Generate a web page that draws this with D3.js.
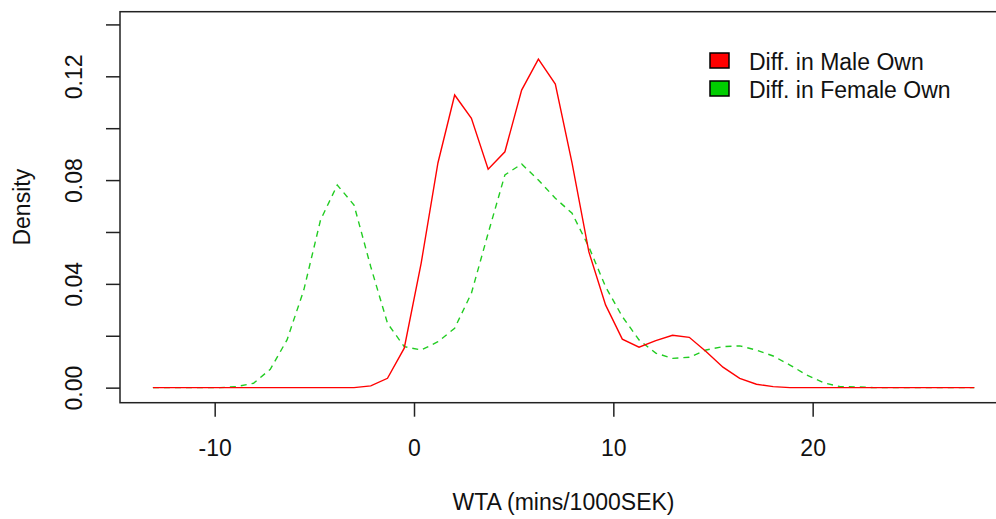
<!DOCTYPE html>
<html>
<head>
<meta charset="utf-8">
<script src="https://cdn.jsdelivr.net/npm/d3@7"></script>
<style>
  body { margin: 0; background: #fff; }
  svg { display: block; font-family: "Liberation Sans", Arial, sans-serif; }
</style>
</head>
<body>
<svg id="chart"></svg>
<script>
// density grid (n = 50) and estimates
const xGrid = [-13.10, -12.26, -11.42, -10.58, -9.74, -8.90, -8.05, -7.21, -6.37, -5.53,
               -4.69, -3.85, -3.01, -2.17, -1.33, -0.49, 0.36, 1.20, 2.04, 2.88,
               3.72, 4.56, 5.40, 6.24, 7.09, 7.93, 8.77, 9.61, 10.45, 11.29,
               12.13, 12.97, 13.81, 14.65, 15.50, 16.34, 17.18, 18.02, 18.86, 19.70,
               20.54, 21.38, 22.22, 23.06, 23.91, 24.75, 25.59, 26.43, 27.27, 28.11];
const maleOwn = [0, 0, 0, 0, 0, 0, 0, 0, 0, 0,
                 0, 0, 0, 0.0007, 0.0036, 0.0152, 0.048, 0.0866, 0.1128, 0.1038,
                 0.0842, 0.0909, 0.1147, 0.1266, 0.1170, 0.0865, 0.0524, 0.0319, 0.0187, 0.0156,
                 0.0181, 0.0202, 0.0194, 0.0139, 0.0079, 0.0036, 0.0013, 0.0004, 0, 0,
                 0, 0, 0, 0, 0, 0, 0, 0, 0, 0];
const femaleOwn = [0, 0, 0, 0, 0, 0.0004, 0.0017, 0.0071, 0.0184, 0.0376,
                   0.0646, 0.0781, 0.0704, 0.0466, 0.0248, 0.0158, 0.0145, 0.0177, 0.0229, 0.0364,
                   0.0595, 0.0820, 0.0862, 0.0800, 0.0730, 0.0672, 0.0543, 0.0389, 0.0274, 0.0184,
                   0.0133, 0.0113, 0.0117, 0.0145, 0.0158, 0.0161, 0.0145, 0.0122, 0.0087, 0.0049,
                   0.0019, 0.0004, 0.0003, 0, 0, 0, 0, 0, 0, 0];
const xTicks = [-10, 0, 10, 20];
const yTicks = [0, 0.02, 0.04, 0.06, 0.08, 0.10, 0.12, 0.14];
const yLabelled = [0, 0.04, 0.08, 0.12];
const seriesNames = ["Diff. in Male Own", "Diff. in Female Own"];
const seriesFill = ["#ff0000", "#00cd00"];

const width = 996, height = 519;
const plotL = 120, plotT = 11.7, plotR = 1007, plotB = 402.7;

const svg = d3.select("#chart").attr("width", width).attr("height", height);
svg.append("rect").attr("width", width).attr("height", height).attr("fill", "#fff");

const x = d3.scaleLinear().domain([-14.75, 29.75]).range([plotL, plotR]);
const y = d3.scaleLinear().domain([-0.0058, 0.1449]).range([plotB, plotT]);

const line = d3.line()
    .x(d => x(d[0]))
    .y(d => y(d[1]));

svg.append("path")
    .datum(xGrid.map((v, i) => [v, femaleOwn[i]]))
    .attr("fill", "none")
    .attr("stroke", "#22cc22")
    .attr("stroke-width", 1.4)
    .attr("stroke-dasharray", "6,5")
    .attr("d", line);

svg.append("path")
    .datum(xGrid.map((v, i) => [v, maleOwn[i]]))
    .attr("fill", "none")
    .attr("stroke", "#ff0000")
    .attr("stroke-width", 1.4)
    .attr("d", line);

// box
svg.append("rect")
    .attr("x", plotL).attr("y", plotT)
    .attr("width", plotR - plotL).attr("height", plotB - plotT)
    .attr("fill", "none").attr("stroke", "#222").attr("stroke-width", 1.5);

// axes
const xAxis = svg.append("g")
    .attr("transform", `translate(0,${plotB})`)
    .call(d3.axisBottom(x).tickValues(xTicks).tickSize(14).tickSizeOuter(0).tickFormat(d => String(d)));
xAxis.select(".domain").remove();
xAxis.selectAll("line").attr("stroke", "#222").attr("stroke-width", 1.5);
xAxis.selectAll("text")
    .attr("y", 53).attr("dy", 0)
    .attr("font-size", 23).attr("fill", "#111")
    .attr("font-family", "Liberation Sans, Arial, sans-serif");

const yAxis = svg.append("g")
    .attr("transform", `translate(${plotL},0)`)
    .call(d3.axisLeft(y).tickValues(yTicks).tickSize(14).tickSizeOuter(0)
        .tickFormat(d => yLabelled.some(v => Math.abs(v - d) < 1e-9) ? d3.format(".2f")(d) : ""));
yAxis.select(".domain").remove();
yAxis.selectAll("line").attr("stroke", "#222").attr("stroke-width", 1.5);
yAxis.selectAll("text")
    .attr("transform", "rotate(-90)")
    .attr("x", 0).attr("y", -38).attr("dy", 0)
    .attr("text-anchor", "middle")
    .attr("font-size", 23).attr("fill", "#111")
    .attr("font-family", "Liberation Sans, Arial, sans-serif");

// axis titles
svg.append("text")
    .attr("x", (plotL + plotR) / 2).attr("y", 510)
    .attr("text-anchor", "middle")
    .attr("font-size", 23).attr("fill", "#111")
    .text("WTA (mins/1000SEK)");

svg.append("text")
    .attr("transform", `translate(30,${(plotT + plotB) / 2}) rotate(-90)`)
    .attr("text-anchor", "middle")
    .attr("font-size", 23).attr("fill", "#111")
    .text("Density");

// legend
const legend = svg.append("g").attr("transform", "translate(710,53)");
seriesNames.forEach((name, i) => {
    legend.append("rect")
        .attr("x", 0).attr("y", i * 28)
        .attr("width", 19).attr("height", 15)
        .attr("fill", seriesFill[i]).attr("stroke", "#000").attr("stroke-width", 1.5);
    legend.append("text")
        .attr("x", 39).attr("y", i * 28 + 17)
        .attr("font-size", 23).attr("fill", "#111")
        .text(name);
});
</script>
</body>
</html>
